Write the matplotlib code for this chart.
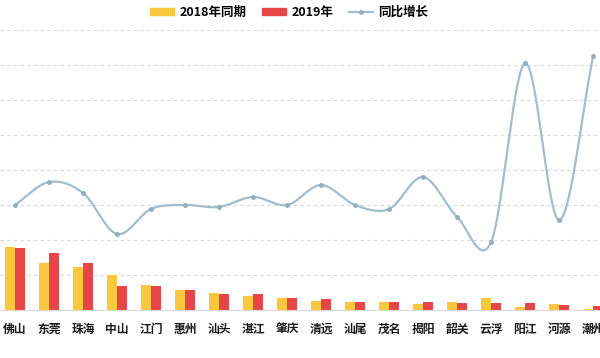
import numpy as np
import matplotlib
matplotlib.use("Agg")
import matplotlib.pyplot as plt
from matplotlib.patches import Patch
from matplotlib.lines import Line2D

plt.rcParams['font.family'] = ['Noto Sans CJK SC', 'DejaVu Sans']

cities = ["佛山", "东莞", "珠海", "中山", "江门", "惠州", "汕头", "湛江", "肇庆",
          "清远", "汕尾", "茂名", "揭阳", "韶关", "云浮", "阳江", "河源", "潮州"]
v2018 = [1800, 1343, 1229, 1000, 714, 571, 486, 400, 343,
         257, 229, 229, 171, 229, 343, 86, 171, 29]
v2019 = [1771, 1629, 1343, 686, 686, 571, 457, 457, 343,
         314, 229, 229, 229, 200, 200, 200, 143, 114]
growth = [20.0, 33.1, 26.9, 3.4, 17.7, 20.0, 18.9, 24.6, 20.0,
          31.4, 20.0, 17.7, 36.0, 13.1, -1.1, 101.1, 11.4, 105.1]

c_2018 = "#F9C83E"
c_2019 = "#E84646"
c_line = "#A3BDCB"


def smooth(x, y, n=20):
    # catmull-rom curve through the points, only for drawing
    x = np.asarray(x, float)
    y = np.asarray(y, float)
    px = np.concatenate([[2 * x[0] - x[1]], x, [2 * x[-1] - x[-2]]])
    py = np.concatenate([[2 * y[0] - y[1]], y, [2 * y[-1] - y[-2]]])
    xs, ys = [], []
    t = np.linspace(0, 1, n, endpoint=False)
    for i in range(1, len(px) - 2):
        for p, out in ((px, xs), (py, ys)):
            p0, p1, p2, p3 = p[i - 1], p[i], p[i + 1], p[i + 2]
            out.extend(0.5 * (2 * p1 + (-p0 + p2) * t
                              + (2 * p0 - 5 * p1 + 4 * p2 - p3) * t ** 2
                              + (-p0 + 3 * p1 - 3 * p2 + p3) * t ** 3))
    xs.append(x[-1])
    ys.append(y[-1])
    return np.array(xs), np.array(ys)


fig = plt.figure(figsize=(6, 3.58), dpi=100)
ax = fig.add_axes([0, 1 - 310 / 358, 1, 280 / 358])
x = np.arange(len(cities))
w = 0.29
ax.bar(x - w / 2, v2018, w, color=c_2018, zorder=2)
ax.bar(x + w / 2, v2019, w, color=c_2019, zorder=2)
ax.set_ylim(0, 8000)
ax.set_yticks(np.arange(0, 8001, 1000))
ax.yaxis.grid(True, linestyle=(0, (3, 3)), color="#d9d9d9", linewidth=0.8)
ax.set_axisbelow(True)
ax.set_xlim(-0.44, 17.2)
ax.set_xticks(x)
ax.set_xticklabels(cities, fontsize=8.5, color="#1a1a1a", fontweight="bold")
ax.tick_params(axis='x', length=0, pad=9)
ax.tick_params(axis='y', length=0, labelleft=False)
for s in ["top", "right", "left"]:
    ax.spines[s].set_visible(False)
ax.spines["bottom"].set_color("#d9d9d9")

ax2 = ax.twinx()
ax2.set_ylim(-40, 120)
ax2.set_xlim(-0.44, 17.2)
sx, sy = smooth(x, growth)
ax2.plot(sx, sy, color=c_line, linewidth=1.6, zorder=3)
ax2.plot(x, growth, 'o', color="#93AEBD", markersize=2.5, zorder=4)
ax2.axis("off")

handles = [Patch(color=c_2018), Patch(color=c_2019),
           Line2D([], [], color=c_line, linewidth=1.6, marker='o', markersize=2.5,
                  markerfacecolor="#93AEBD", markeredgecolor="#93AEBD")]
fig.legend(handles, ["2018年同期", "2019年", "同比增长"], loc="center",
           bbox_to_anchor=(0.482, 0.966), ncol=3, frameon=False,
           prop={"size": 9, "weight": "bold"},
           handlelength=1.9, handleheight=0.5, columnspacing=1.3, handletextpad=0.4)

fig.savefig("out.png", dpi=100)
